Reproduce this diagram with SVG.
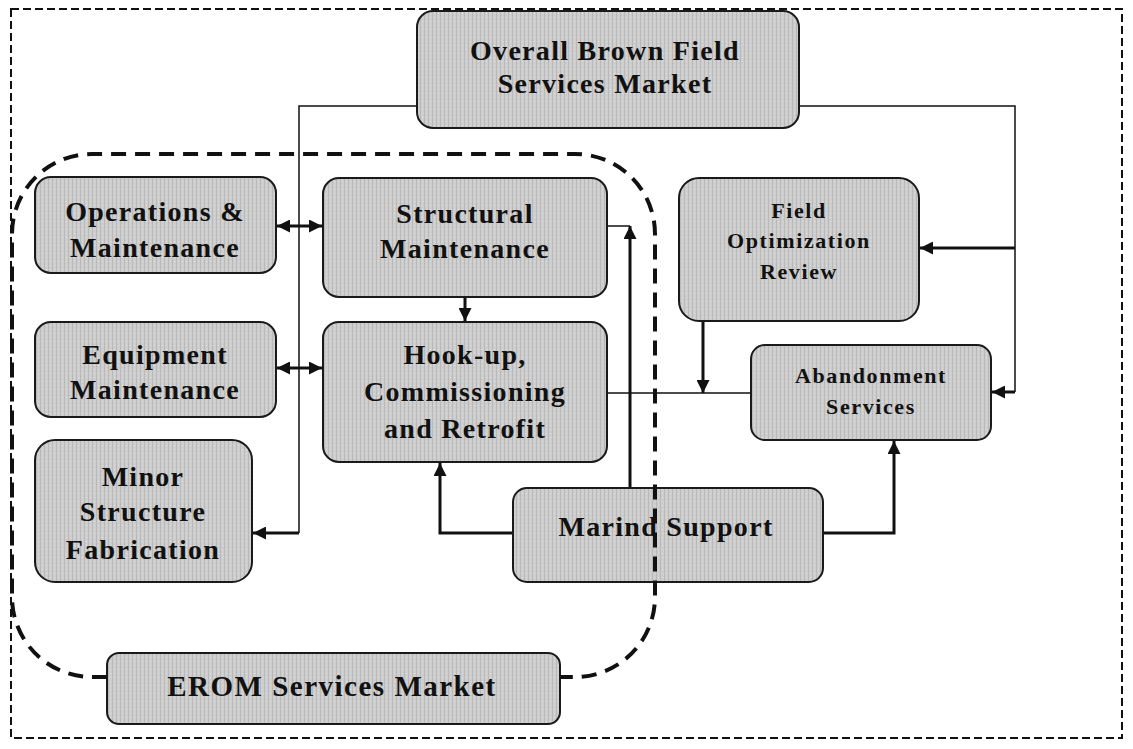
<svg xmlns="http://www.w3.org/2000/svg" width="1133" height="749" viewBox="0 0 1133 749">
<style>
.box{fill:url(#tex);stroke:#1a1a1a;stroke-width:2}
.t{font-family:"Liberation Serif","Times New Roman",serif;font-weight:bold;fill:#111;text-anchor:middle;font-size:28px;letter-spacing:1.3px}
.s{font-size:22px;letter-spacing:1.6px}
.thin{fill:none;stroke:#111;stroke-width:1.5}
.thick{fill:none;stroke:#111;stroke-width:3}
.dash{fill:none;stroke:#111;stroke-width:4;stroke-dasharray:15 9}
</style>
<defs>
<pattern id="tex" width="4" height="4" patternUnits="userSpaceOnUse">
<rect width="4" height="4" fill="#cdcdcd"/>
<rect width="1" height="4" fill="#b9b9b9"/>
<rect x="2" y="1" width="1" height="1" fill="#e0e0e0"/>
</pattern>
<marker id="ah" viewBox="0 0 12 12" refX="12" refY="6" markerWidth="13" markerHeight="13" markerUnits="userSpaceOnUse" orient="auto-start-reverse">
<path d="M0,0 L12,6 L0,12 z" fill="#111"/>
</marker>
</defs>
<rect x="11" y="9" width="1111" height="729" fill="none" stroke="#111" stroke-width="2" stroke-dasharray="8 4"/>
<g id="connectors">
<path class="thin" d="M417,106 H299 V533"/>
<path class="thick" d="M299,533 H253" marker-end="url(#ah)"/>
<path class="thick" d="M277,226 H322" marker-start="url(#ah)" marker-end="url(#ah)"/>
<path class="thick" d="M277,368 H322" marker-start="url(#ah)" marker-end="url(#ah)"/>
<path class="thick" d="M465,297 V321" marker-end="url(#ah)"/>
<path class="thick" d="M513,533 H440 V463" marker-end="url(#ah)"/>
<path class="thin" d="M630,226 H608"/>
<path class="thick" d="M630,488 V226" marker-end="url(#ah)"/>
<path class="thin" d="M608,393 H751"/>
<path class="thick" d="M703,321 V393" marker-end="url(#ah)"/>
<path class="thin" d="M799,106 H1015 V392"/>
<path class="thick" d="M1015,248 H920" marker-end="url(#ah)"/>
<path class="thick" d="M1015,392 H992" marker-end="url(#ah)"/>
<path class="thick" d="M823,533 H894 V441" marker-end="url(#ah)"/>
</g>
<g id="overall"><rect class="box" x="417" y="11" width="382" height="117" rx="16"/>
<text class="t" x="605" y="60">Overall Brown Field</text><text class="t" x="605" y="93">Services Market</text></g>
<g id="ops"><rect class="box" x="35" y="177" width="241" height="96" rx="16"/>
<text class="t" x="155" y="221">Operations &amp;</text><text class="t" x="155" y="257">Maintenance</text></g>
<g id="structural"><rect class="box" x="323" y="178" width="284" height="119" rx="16"/>
<text class="t" x="465" y="223">Structural</text><text class="t" x="465" y="258">Maintenance</text></g>
<g id="equipment"><rect class="box" x="35" y="322" width="241" height="95" rx="16"/>
<text class="t" x="155" y="364">Equipment</text><text class="t" x="155" y="399">Maintenance</text></g>
<g id="hookup"><rect class="box" x="323" y="322" width="284" height="140" rx="16"/>
<text class="t" x="465" y="364">Hook-up,</text><text class="t" x="465" y="401">Commissioning</text><text class="t" x="465" y="438">and Retrofit</text></g>
<g id="minor"><rect class="box" x="35" y="440" width="217" height="142" rx="20"/>
<text class="t" x="143" y="486">Minor</text><text class="t" x="143" y="521">Structure</text><text class="t" x="143" y="559">Fabrication</text></g>
<g id="for"><rect class="box" x="679" y="178" width="240" height="143" rx="20"/>
<text class="t s" x="799" y="218">Field</text><text class="t s" x="799" y="248">Optimization</text><text class="t s" x="799" y="279">Review</text></g>
<g id="abandonment"><rect class="box" x="751" y="345" width="240" height="95" rx="14"/>
<text class="t s" x="871" y="383">Abandonment</text><text class="t s" x="871" y="414">Services</text></g>
<g id="marine"><rect class="box" x="513" y="488" width="310" height="94" rx="14"/>
<text class="t" x="666" y="536">Marind Support</text></g>
<g id="erom"><rect class="box" x="107" y="653" width="453" height="71" rx="12"/>
<text class="t" x="332" y="696" style="font-size:29px;letter-spacing:1.5px">EROM Services Market</text></g>
<path id="erom-boundary" class="dash" d="M107,677 H92 A80,80 0 0 1 12,597 V234 A80,80 0 0 1 92,154 H575 A80,80 0 0 1 655,234 V597 A80,80 0 0 1 575,677 H560"/>
</svg>
